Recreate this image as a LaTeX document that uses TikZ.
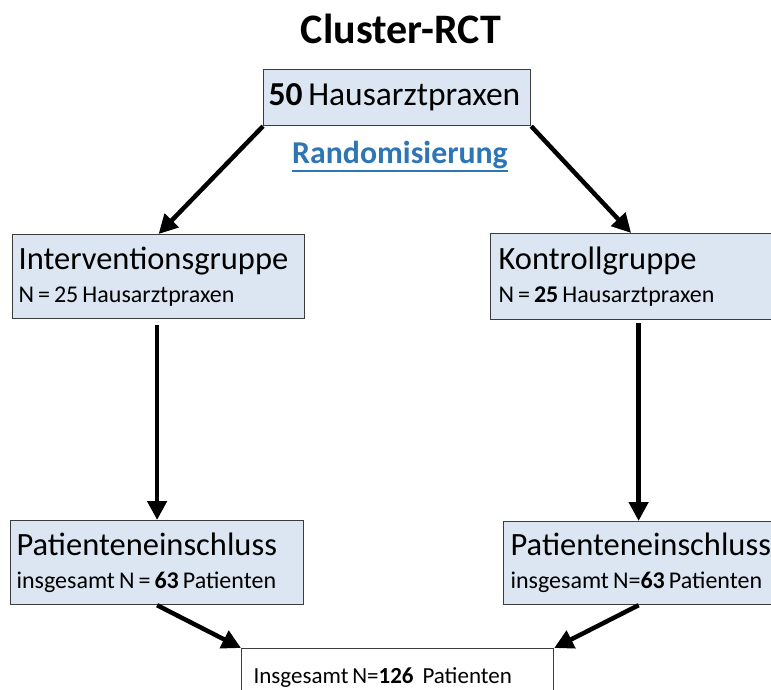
\documentclass[tikz,border=0pt]{standalone}
\usepackage{fontspec}
\setmainfont{Carlito}
\usepackage{tikz}
\usepackage{xcolor}
\usetikzlibrary{arrows.meta}
\definecolor{boxblue}{RGB}{220,230,242}
\definecolor{boxline}{RGB}{60,60,60}
\definecolor{randblue}{RGB}{46,117,182}
\newcommand{\bigtxt}{\fontsize{32.5}{33}\selectfont}
\newcommand{\smalltxt}{\fontsize{24}{33}\selectfont\spaceskip=0.17em\relax}

\begin{document}
\begin{tikzpicture}[x=1pt, y=-1pt,
    gbox/.style={draw=boxline, line width=1.2pt, fill=boxblue, anchor=north west,
      align=left, inner xsep=6pt, inner ysep=0pt, font=\bigtxt},
    arr/.style={-{Triangle[length=19pt,width=19pt]}, line width=4.5pt}]
    \useasboundingbox (0,0) rectangle (771,689);

    %% title and top box
    \node [anchor=base, font=\fontsize{42}{46}\selectfont\bfseries] (t1) at (401,43) {Cluster-RCT};
    \node [gbox, text width=257pt, minimum height=56pt, inner xsep=5pt,
      font=\fontsize{33.5}{36}\selectfont] (p1) at (263,69)
      {\mbox{\spaceskip=0.17em\textbf{50} Hausarztpraxen}};
    \node [anchor=base, inner xsep=0pt, inner ysep=2.5pt, text=randblue,
      font=\fontsize{31.8}{34}\selectfont\bfseries] (r1) at (400,163) {Randomisierung};
    \draw [randblue, line width=1.6pt] (r1.south west) -- (r1.south east);

    %% the two groups
    \node [gbox, text width=280pt, minimum height=84pt] (iv1) at (12,234)
      {\mbox{Interventionsgruppe}\\
       \mbox{\smalltxt N\,=\,25 Hausarztpraxen}};
    \node [gbox, text width=265pt, minimum height=86pt, inner xsep=8pt] (kg1) at (490,233)
      {\mbox{Kontrollgruppe}\\
       \mbox{\smalltxt N\,=\,\textbf{25} Hausarztpraxen}};
    \draw [arr] (p1.south west) -- (iv1.north);
    \draw [arr] (p1.south east) -- (kg1.north);

    %% patients
    \node [gbox, text width=281pt, minimum height=84pt] (pe1) at (10,520)
      {\mbox{Patienteneinschluss}\\
       \mbox{\smalltxt insgesamt N\,=\,\textbf{63} Patienten}};
    \node [gbox, text width=256pt, minimum height=83pt, inner xsep=7pt] (pe2) at (503,521)
      {\mbox{Patienteneinschluss}\\
       \mbox{\smalltxt insgesamt N=\textbf{63} Patienten}};
    \draw [arr, shorten <=6pt] (pe1.north |- iv1.south) -- (pe1.north);
    \draw [arr, shorten <=3pt] (pe2.north |- kg1.south) -- (pe2.north);

    %% total
    \node [gbox, fill=white, text width=288pt, minimum height=58pt, inner xsep=12pt,
      font=\fontsize{23}{26}\selectfont] (tot1) at (241,648)
      {\mbox{\spaceskip=0.17em Insgesamt N=\textbf{126}\hspace{5pt} Patienten}};
    \draw [arr] (pe1.south) -- (tot1.north west);
    \draw [arr] (pe2.south) -- (tot1.north east);

  \end{tikzpicture}
\end{document}
